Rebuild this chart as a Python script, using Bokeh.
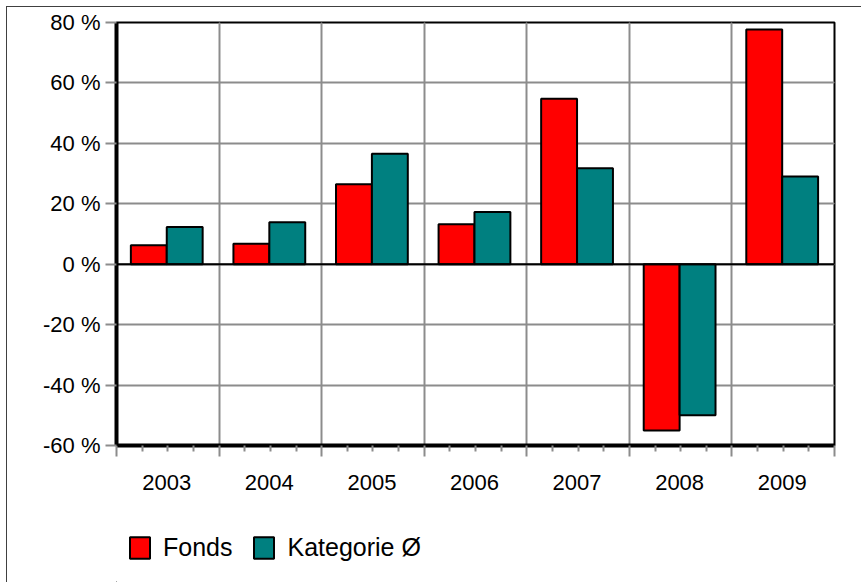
from bokeh.plotting import figure
from bokeh.layouts import column
from bokeh.models import (FixedTicker, LinearAxis, Range1d, Legend, LegendItem,
                          Grid, Span, CustomJSTickFormatter)
from bokeh.embed import file_html
from bokeh.resources import INLINE

# ---- data ----
years = ["2003", "2004", "2005", "2006", "2007", "2008", "2009"]
fonds = [6.3, 6.8, 26.5, 13.2, 54.8, -55.0, 77.7]
kategorie = [12.3, 13.9, 36.6, 17.3, 31.8, -50.0, 29.0]
series_names = ["Fonds", "Kategorie Ø"]
y_ticks = [-60, -40, -20, 0, 20, 40, 60, 80]
y_tick_labels = ["-60 %", "-40 %", "-20 %", "0 %", "20 %", "40 %", "60 %", "80 %"]

FONT = "Liberation Sans"
GRID = "#8c8c8c"
RED = "#ff0000"
TEAL = "#008080"
n = len(years)
off = 0.49
w = 0.35
centers = [i + off for i in range(n)]
x_f = [c - w / 2 for c in centers]
x_k = [c + w / 2 for c in centers]
boundaries = list(range(n + 1))
quarters = [i + q for i in range(n) for q in (0.25, 0.5, 0.75)]

W = 854
H1 = 520
H2 = 55

p = figure(width=W, height=H1, output_backend="svg", toolbar_location=None,
           x_range=Range1d(0, n), y_range=Range1d(-60, 80),
           x_axis_location=None, y_axis_location=None,
           min_border_left=109, min_border_right=27, min_border_top=15,
           min_border_bottom=82)
p.outline_line_color = "black"
p.outline_line_width = 2
p.background_fill_color = "white"
p.border_fill_color = "white"

p.add_layout(Grid(dimension=0, ticker=FixedTicker(ticks=boundaries),
                  grid_line_color=GRID, grid_line_width=2))
p.add_layout(Grid(dimension=1, ticker=FixedTicker(ticks=y_ticks),
                  grid_line_color=GRID, grid_line_width=2))

r1 = p.vbar(x=x_f, top=fonds, bottom=0, width=w, fill_color=RED,
            line_color="black", line_width=2)
r2 = p.vbar(x=x_k, top=kategorie, bottom=0, width=w, fill_color=TEAL,
            line_color="black", line_width=2)
p.add_layout(Span(location=0, dimension="width", line_color="black", line_width=2))

yaxis = LinearAxis(ticker=FixedTicker(ticks=y_ticks),
                   major_label_overrides={t: l for t, l in zip(y_ticks, y_tick_labels)},
                   axis_line_color="black", axis_line_width=4,
                   major_tick_out=11, major_tick_in=0,
                   major_tick_line_color=GRID, major_tick_line_width=2,
                   minor_tick_line_color=None,
                   major_label_text_font=FONT, major_label_text_font_size="22px",
                   major_label_text_color="black", major_label_standoff=5)
p.add_layout(yaxis, "left")

xticks_axis = LinearAxis(ticker=FixedTicker(ticks=boundaries, minor_ticks=quarters),
                         formatter=CustomJSTickFormatter(code="return ''"),
                         axis_line_color="black", axis_line_width=4,
                         major_tick_out=11, major_tick_in=0,
                         minor_tick_out=6, minor_tick_in=0,
                         major_tick_line_color=GRID, major_tick_line_width=2,
                         minor_tick_line_color=GRID, minor_tick_line_width=2,
                         major_label_text_font_size="1px", major_label_standoff=0)
p.add_layout(xticks_axis, "below")

xlabel_axis = LinearAxis(ticker=FixedTicker(ticks=centers),
                         formatter=CustomJSTickFormatter(
                             args=dict(labels=years, off=off),
                             code="return labels[Math.round(tick - off)]"),
                         axis_line_color=None, major_tick_line_color=None,
                         minor_tick_line_color=None,
                         major_label_text_font=FONT, major_label_text_font_size="22px",
                         major_label_text_color="black", major_label_standoff=12)
p.add_layout(xlabel_axis, "below")

# legend figure below the chart (swatch renderers sit outside its visible range)
lf = figure(width=W, height=H2, output_backend="svg", toolbar_location=None,
            x_range=Range1d(0, 1), y_range=Range1d(0, 1),
            x_axis_location=None, y_axis_location=None,
            min_border=0, min_border_left=0, min_border_right=0,
            min_border_top=0, min_border_bottom=0)
lf.outline_line_color = None
lf.background_fill_color = "white"
lf.border_fill_color = "white"
lf.xgrid.visible = False
lf.ygrid.visible = False
g1 = lf.vbar(x=[-5], top=[-5], bottom=[-6], width=0.1, fill_color=RED,
             line_color="black", line_width=2)
g2 = lf.vbar(x=[-5], top=[-5], bottom=[-6], width=0.1, fill_color=TEAL,
             line_color="black", line_width=2)
legend = Legend(items=[LegendItem(label=series_names[0], renderers=[g1], index=0),
                       LegendItem(label=series_names[1], renderers=[g2], index=0)],
                orientation="horizontal", location=(11, 20),
                glyph_width=25, glyph_height=27, label_standoff=11, spacing=19,
                padding=0, margin=0, border_line_color=None,
                background_fill_alpha=0,
                label_text_font=FONT, label_text_font_size="25px",
                label_text_color="black")
lf.add_layout(legend)

layout = column(p, lf, spacing=0)
layout.styles = {"margin-left": "6px", "margin-top": "6px",
                 "border-left": "1px solid #404040", "border-top": "1px solid #404040"}

open("out.html", "w").write(file_html(layout, INLINE))
